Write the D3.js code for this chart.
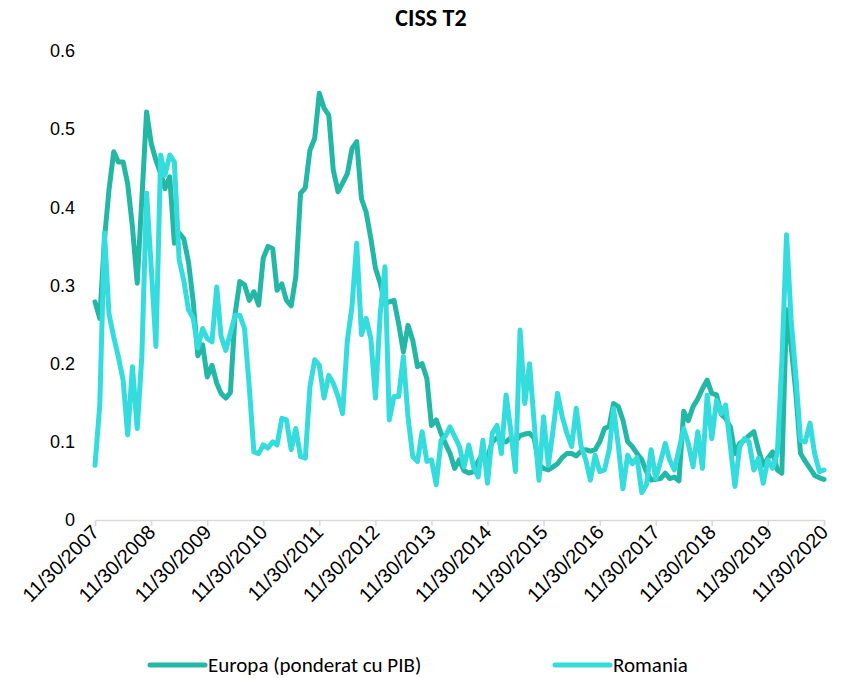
<!DOCTYPE html>
<html>
<head>
<meta charset="utf-8">
<script src="https://cdn.jsdelivr.net/npm/d3@7"></script>
<style>
  body { margin: 0; background: #fff; }
  svg { font-family: Carlito, Lato, "Liberation Sans", sans-serif; }
  .x-axis path, .x-axis line { stroke: #d9d9d9; }
  .y-axis path, .y-axis line { display: none; }
  .tick text { fill: #000; }
</style>
</head>
<body>
<div class="plot"></div>
<script>
// monthly readings, 11/30/2007 .. 11/30/2020
let startMonth = "2007-12-01";
let yTicks = [0, 0.1, 0.2, 0.3, 0.4, 0.5, 0.6];
let yTickLabels = ["0", "0.1", "0.2", "0.3", "0.4", "0.5", "0.6"];
let xTickYears = d3.range(2007, 2021);
let seriesNames = ["Europa (ponderat cu PIB)", "Romania"];

let europa = [
  0.279, 0.258, 0.360, 0.422, 0.471, 0.458, 0.458, 0.430, 0.375, 0.303,
  0.410, 0.522, 0.482, 0.460, 0.443, 0.424, 0.439, 0.354, 0.367, 0.360,
  0.330, 0.279, 0.210, 0.224, 0.183, 0.198, 0.175, 0.162, 0.156, 0.163,
  0.264, 0.305, 0.301, 0.281, 0.292, 0.275, 0.335, 0.350, 0.347, 0.294,
  0.302, 0.281, 0.274, 0.311, 0.418, 0.425, 0.473, 0.488, 0.546, 0.527,
  0.518, 0.448, 0.420, 0.431, 0.443, 0.475, 0.484, 0.411, 0.394, 0.360,
  0.322, 0.303, 0.277, 0.279, 0.281, 0.251, 0.215, 0.249, 0.230, 0.196,
  0.200, 0.181, 0.121, 0.128, 0.111, 0.098, 0.085, 0.066, 0.077, 0.063,
  0.060, 0.062, 0.075, 0.085, 0.080, 0.100, 0.105, 0.100, 0.100, 0.105,
  0.100, 0.108, 0.110, 0.111, 0.105, 0.070, 0.066, 0.064, 0.068, 0.072,
  0.080, 0.085, 0.085, 0.082, 0.088, 0.090, 0.088, 0.090, 0.100, 0.117,
  0.120, 0.149, 0.145, 0.128, 0.100, 0.094, 0.085, 0.077, 0.062, 0.051,
  0.052, 0.053, 0.060, 0.053, 0.055, 0.050, 0.139, 0.127, 0.145, 0.155,
  0.168, 0.179, 0.162, 0.160, 0.135, 0.130, 0.119, 0.085, 0.098, 0.102,
  0.108, 0.113, 0.090, 0.070, 0.079, 0.087, 0.064, 0.060, 0.269, 0.222,
  0.162, 0.085, 0.075, 0.066, 0.057, 0.054, 0.052
];

let romania = [
  0.070, 0.147, 0.367, 0.264, 0.234, 0.209, 0.179, 0.109, 0.196, 0.117,
  0.209, 0.418, 0.324, 0.222, 0.467, 0.441, 0.467, 0.458, 0.333, 0.307,
  0.269, 0.258, 0.220, 0.245, 0.232, 0.228, 0.298, 0.235, 0.217, 0.239,
  0.262, 0.262, 0.245, 0.170, 0.087, 0.085, 0.096, 0.092, 0.100, 0.096,
  0.130, 0.128, 0.090, 0.117, 0.081, 0.079, 0.170, 0.205, 0.198, 0.156,
  0.185, 0.175, 0.158, 0.136, 0.230, 0.273, 0.354, 0.237, 0.258, 0.232,
  0.156, 0.264, 0.324, 0.128, 0.158, 0.158, 0.209, 0.132, 0.081, 0.075,
  0.113, 0.075, 0.077, 0.045, 0.102, 0.107, 0.119, 0.107, 0.094, 0.068,
  0.096, 0.068, 0.055, 0.102, 0.047, 0.111, 0.121, 0.085, 0.160, 0.115,
  0.062, 0.243, 0.149, 0.200, 0.124, 0.051, 0.132, 0.070, 0.115, 0.162,
  0.132, 0.111, 0.094, 0.143, 0.095, 0.077, 0.051, 0.083, 0.062, 0.064,
  0.090, 0.143, 0.095, 0.040, 0.083, 0.072, 0.080, 0.035, 0.045, 0.090,
  0.053, 0.075, 0.098, 0.077, 0.064, 0.090, 0.117, 0.098, 0.068, 0.113,
  0.066, 0.160, 0.104, 0.153, 0.136, 0.147, 0.094, 0.043, 0.094, 0.104,
  0.100, 0.064, 0.079, 0.047, 0.077, 0.066, 0.085, 0.200, 0.365, 0.256,
  0.183, 0.102, 0.100, 0.124, 0.085, 0.062, 0.064
];

let colors = ["#23b7a5", "#35dcde"];

let width = 846, height = 678;
let plotLeft = 95, plotRight = 824, plotTop = 51, plotBottom = 520;

let parseDay = d3.timeParse("%Y-%m-%d");
// last day of each month
let dates = europa.map((v, i) => d3.timeDay.offset(d3.timeMonth.offset(parseDay(startMonth), i), -1));

let xScale = d3.scaleTime()
    .domain([parseDay("2007-11-30"), parseDay("2020-11-30")])
    .range([plotLeft, plotRight]);
let yScale = d3.scaleLinear()
    .domain([0, 0.6])
    .range([plotBottom, plotTop]);

let svg = d3.select(".plot")
    .append("svg")
    .attr("width", width)
    .attr("height", height);

svg.append("text")
    .attr("x", 431)
    .attr("y", 26)
    .attr("text-anchor", "middle")
    .style("font-weight", "bold")
    .style("font-size", "24px")
    .text("CISS T2");

// y axis, labels only
let yAxis = d3.axisLeft(yScale)
    .tickValues(yTicks)
    .tickFormat((d, i) => yTickLabels[i])
    .tickSize(0)
    .tickPadding(20);
svg.append("g")
    .attr("class", "y-axis")
    .attr("transform", "translate(" + plotLeft + ",0)")
    .call(yAxis)
    .selectAll(".tick text")
    .style("font-size", "18px");

// x axis with rotated dates
let xAxis = d3.axisBottom(xScale)
    .tickValues(xTickYears.map(y => parseDay(y + "-11-30")))
    .tickFormat(d3.timeFormat("%m/%d/%Y"))
    .tickSizeOuter(0)
    .tickSize(6);
let gx = svg.append("g")
    .attr("class", "x-axis")
    .attr("transform", "translate(0," + plotBottom + ")")
    .call(xAxis);
gx.select(".domain").attr("stroke-width", 1.5);
gx.selectAll(".tick line").attr("stroke-width", 1.5);
gx.selectAll(".tick text")
    .style("font-size", "20px")
    .attr("text-anchor", "end")
    .attr("x", -6)
    .attr("y", 13)
    .attr("dy", "0")
    .attr("transform", "rotate(-45)");

let line = d3.line()
    .x((d, i) => xScale(dates[i]))
    .y(d => yScale(d));

[europa, romania].forEach((series, k) => {
    svg.append("path")
        .datum(series)
        .attr("fill", "none")
        .attr("stroke", colors[k])
        .attr("stroke-width", 5)
        .attr("stroke-linejoin", "round")
        .attr("stroke-linecap", "round")
        .attr("d", line);
});

// legend
let legendX = [150, 555];
seriesNames.forEach((name, k) => {
    let g = svg.append("g").attr("transform", "translate(" + legendX[k] + ",665)");
    g.append("line")
        .attr("x1", 0).attr("x2", 55)
        .attr("stroke", colors[k])
        .attr("stroke-width", 5)
        .attr("stroke-linecap", "round");
    g.append("text")
        .attr("x", 58)
        .attr("dy", "0.35em")
        .style("font-size", "21px")
        .text(name);
});
</script>
</body>
</html>
